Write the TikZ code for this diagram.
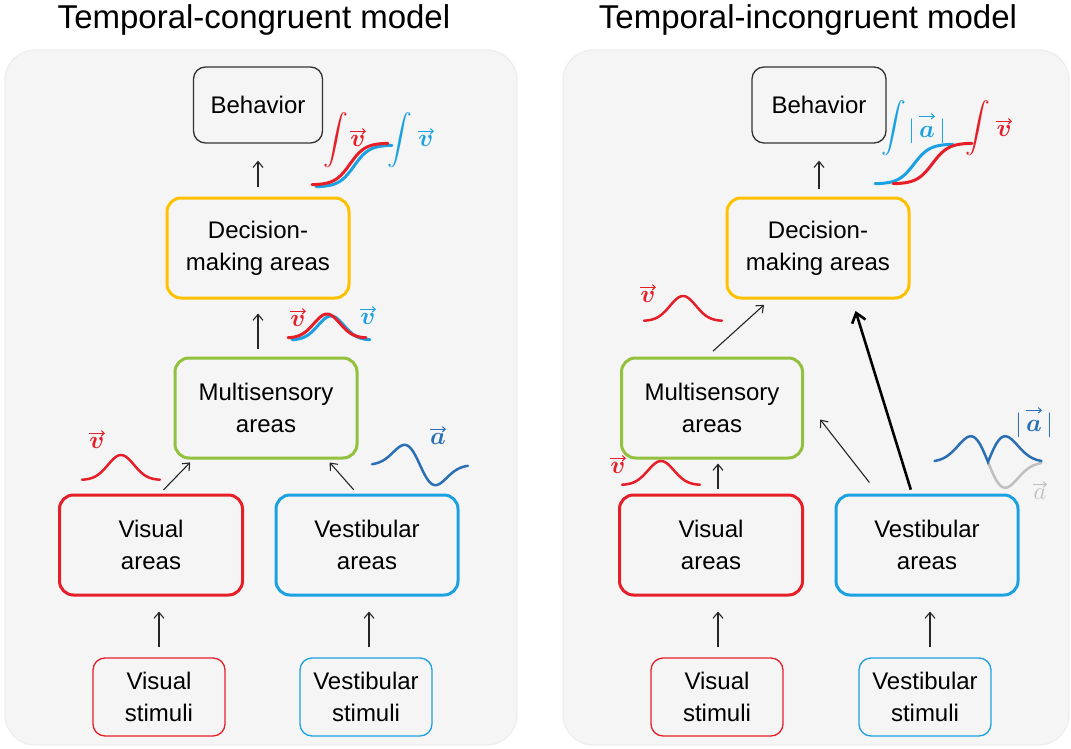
\documentclass[tikz,border=0pt]{standalone}
\usepackage{amsmath}
\usepackage{fontspec}
\setmainfont{Liberation Sans}
\usepackage{bm}
\usetikzlibrary{arrows.meta}
\definecolor{cred}{HTML}{E61E28}
\definecolor{cblue}{HTML}{1BA1E2}
\definecolor{cyel}{HTML}{FFC000}
\definecolor{cgreen}{HTML}{92C13E}
\definecolor{cdblue}{HTML}{2A6EB4}
\definecolor{cgray}{HTML}{BFBFBF}
\definecolor{panelbg}{HTML}{F5F5F5}
\tikzset{
  panel/.style={fill=panelbg, draw=black!7, line width=0.8pt, rounded corners=30pt},
  box/.style={draw, rounded corners=14pt, line width=3pt, align=center, inner sep=0pt,
    minimum width=182pt, minimum height=100pt, font=\fontsize{24}{32}\selectfont},
  thinbox/.style={draw, rounded corners=12pt, line width=1.3pt, align=center, inner sep=0pt,
    minimum width=132pt, minimum height=78pt, font=\fontsize{24}{32}\selectfont},
  ttl/.style={font=\fontsize{33}{36}\selectfont},
  arr/.style={-{Straight Barb[length=6pt,width=10pt]}, line width=1.1pt, black!85},
  thickarr/.style={-{Straight Barb[length=9pt,width=14pt]}, line width=2.6pt, black},
  crv/.style={line width=3pt, line cap=round},
  lbl/.style={font=\fontsize{27}{30}\selectfont, inner sep=0pt},
  intl/.style={font=\fontsize{25}{30}\selectfont, inner sep=0pt},
  vecarrow/.style={line width=1pt, -{Straight Barb[length=3pt,width=5.5pt]}},
}
% name, position, colour, math content, half length of the arrow above
\newcommand{\veclab}[5]{%
  \node[lbl, text=#3] (#1) at #2 {$#4$};
  \draw[vecarrow, #3] ([shift={(-#5,-4)}]#1.north) -- ([shift={(#5,-4)}]#1.north);}
\begin{document}
\begin{tikzpicture}[x=1pt,y=-1pt]
\useasboundingbox (0,0) rectangle (1071,749);
% panels
\fill[panel] (5,50) rectangle (517,745);
\fill[panel] (563,50) rectangle (1069,745);
\draw[panel,fill=none] (5,50) rectangle (517,745);
\draw[panel,fill=none] (563,50) rectangle (1069,745);
% titles
\node[ttl] (t1) at (254,20) {Temporal-congruent model};
\node[ttl] (t2) at (808,20) {Temporal-incongruent model};

% ---------------- left panel ----------------
\node[thinbox, draw=black!80, minimum width=129pt, minimum height=76pt] (behL) at (258,105) {Behavior};
\node[box, draw=cyel] (decL) at (258,248) {Decision-\\making areas};
\node[box, draw=cgreen] (multL) at (266,408) {Multisensory\\areas};
\node[box, draw=cred, minimum width=183pt] (visL) at (151,545) {Visual\\areas};
\node[box, draw=cblue] (vesL) at (367,545) {Vestibular\\areas};
\node[thinbox, draw=cred] (vstL) at (159,697) {Visual\\stimuli};
\node[thinbox, draw=cblue] (bstL) at (366,697) {Vestibular\\stimuli};

\draw[arr, shorten <=10pt, shorten >=17pt] (decL.north) -- (behL.south);
\draw[arr, shorten <=8pt, shorten >=14pt] ([xshift=-8pt]multL.north) -- (decL.south);
\draw[arr, shorten <=5pt, shorten >=4pt] ([xshift=9pt]visL.north) -- ([xshift=-73pt]multL.south);
\draw[arr, shorten <=5pt, shorten >=4pt] ([xshift=-10pt]vesL.north) -- ([xshift=61pt]multL.south);
\draw[arr, shorten <=10pt, shorten >=15pt] (vstL.north) -- ([xshift=8pt]visL.south);
\draw[arr, shorten <=10pt, shorten >=15pt] ([xshift=3pt]bstL.north) -- ([xshift=2pt]vesL.south);

% left curves
\draw[crv, cblue] plot[domain=-5:5, samples=50] ({316+7.6*(\x+5)}, {187-42/(1+exp(-\x))});
\draw[crv, cred] plot[domain=-5:5, samples=50] ({312+7.6*(\x+5)}, {185-42/(1+exp(-\x))});
\node[intl, text=cred] (iL1) at (336,140) {$\displaystyle\int$};
\veclab{vL0}{(358,141)}{cred}{\bm{v}}{8}
\node[intl, text=cblue] (iL2) at (400,140) {$\displaystyle\int$};
\veclab{vL00}{(426,141)}{cblue}{\bm{v}}{8}

\draw[crv, cblue] plot[domain=-3:3, samples=50] ({331+13*\x}, {340-24*exp(-\x*\x/2)});
\draw[crv, cred] plot[domain=-3:3, samples=50] ({327+13*\x}, {338-24*exp(-\x*\x/2)});
\veclab{vL1}{(298,321)}{cred}{\bm{v}}{8}
\veclab{vL2}{(368,319)}{cblue}{\bm{v}}{8}

\draw[crv, cred, line width=2.5pt] plot[domain=-3:3, samples=50] ({121+13*\x}, {480-25*exp(-\x*\x/2)});
\veclab{vL3}{(97,443)}{cred}{\bm{v}}{8}
\draw[crv, cdblue, line width=2.5pt] plot[domain=-2.2:2.2, samples=60] ({420+21.8*\x}, {465+47*\x*exp(-\x*\x)});
\veclab{aL}{(438,439)}{cdblue}{\bm{a}}{8}

% ---------------- right panel ----------------
\node[thinbox, draw=black!80, minimum width=134pt, minimum height=76pt] (behR) at (819,105) {Behavior};
\node[box, draw=cyel] (decR) at (818,248) {Decision-\\making areas};
\node[box, draw=cgreen, minimum width=181pt] (multR) at (712,408) {Multisensory\\areas};
\node[box, draw=cred, minimum width=183pt] (visR) at (711,545) {Visual\\areas};
\node[box, draw=cblue] (vesR) at (927,545) {Vestibular\\areas};
\node[thinbox, draw=cred] (vstR) at (717,697) {Visual\\stimuli};
\node[thinbox, draw=cblue] (bstR) at (925,697) {Vestibular\\stimuli};

\draw[arr, shorten <=8pt, shorten >=17pt] ([xshift=1pt]decR.north) -- (behR.south);
\draw[arr, shorten <=8pt, shorten >=8pt] ([xshift=-5pt]multR.north) -- ([xshift=-48pt]decR.south);
\draw[arr, shorten <=5pt, shorten >=4pt] ([xshift=7pt]visR.north) -- ([xshift=6pt]multR.south);
\draw[arr, shorten <=14pt, shorten >=2pt] ([xshift=-49pt]vesR.north) -- ([shift={(15,10)}]multR.east);
\draw[thickarr, shorten <=4pt, shorten >=12pt] ([xshift=-15pt]vesR.north) -- ([xshift=34pt]decR.south);
\draw[arr, shorten <=10pt, shorten >=15pt] ([xshift=1pt]vstR.north) -- ([xshift=7pt]visR.south);
\draw[arr, shorten <=10pt, shorten >=15pt] ([xshift=5pt]bstR.north) -- ([xshift=3pt]vesR.south);

% right curves
\draw[crv, cblue] plot[domain=-5:5, samples=50] ({875+7.8*(\x+5)}, {184-40/(1+exp(-\x))});
\draw[crv, cred] plot[domain=-5:5, samples=50] ({893+7.9*(\x+5)}, {184-41/(1+exp(-\x))});
\node[intl, text=cblue] (iR1) at (894,128) {$\displaystyle\int$};
\node[lbl, text=cblue] (aR0) at (927,131) {$\lvert\,\bm{a}\,\rvert$};
\draw[vecarrow, cblue] ([shift={(-8,-2)}]aR0.north) -- ([shift={(8,-2)}]aR0.north);
\node[intl, text=cred] (iR2) at (978,128) {$\displaystyle\int$};
\veclab{vR0}{(1004,131)}{cred}{\bm{v}}{8}

\draw[crv, cred, line width=2.5pt] plot[domain=-3:3, samples=50] ({683+13*\x}, {321-25*exp(-\x*\x/2)});
\veclab{vR1}{(648,297)}{cred}{\bm{v}}{8}
\draw[crv, cred, line width=2.5pt] plot[domain=-3:3, samples=50] ({661+13*\x}, {485-24*exp(-\x*\x/2)});
\veclab{vR2}{(618,468)}{cred}{\bm{v}}{8}

\draw[crv, cgray, line width=2.5pt] plot[domain=0:2.2, samples=40] ({988+24.3*\x}, {462+60*\x*exp(-\x*\x)});
\draw[crv, cdblue, line width=2.5pt] plot[domain=-2.2:2.2, samples=81] ({988+24.3*\x}, {462-60*abs(\x)*exp(-\x*\x)});
\node[lbl, text=cdblue] (aR1) at (1034,425) {$\lvert\,\bm{a}\,\rvert$};
\draw[vecarrow, cdblue] ([shift={(-8,-2)}]aR1.north) -- ([shift={(8,-2)}]aR1.north);
\veclab{aR2}{(1040,494)}{cgray}{a}{7}
\end{tikzpicture}
\end{document}
